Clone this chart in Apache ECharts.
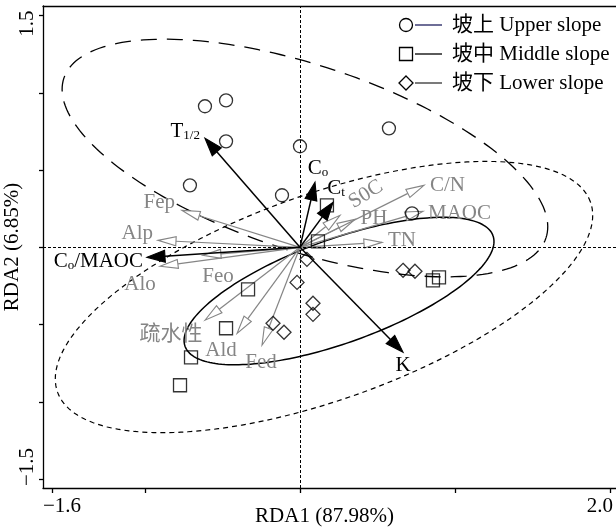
<!DOCTYPE html>
<html>
<head>
<meta charset="utf-8">
<style>
html, body { margin: 0; padding: 0; background: #fff; }
#main { width: 616px; height: 529px; }
</style>
<script src="https://cdn.jsdelivr.net/npm/echarts@6/dist/echarts.min.js"></script>
</head>
<body>
<div id="main"></div>
<script>
// 样点得分 (RDA1, RDA2)
var upperX = [-0.613, -0.477, -0.477, -0.710, -0.116, 0.000, 0.574, 0.723];
var upperY = [0.913, 0.951, 0.686, 0.401, 0.337, 0.654, 0.770, 0.220];
var middleX = [0.174, 0.116, -0.335, -0.477, -0.703, -0.774, 0.858, 0.897];
var middleY = [0.272, 0.039, -0.272, -0.524, -0.712, -0.893, -0.214, -0.194];
var lowerX = [0.045, -0.019, 0.084, 0.084, -0.174, -0.103, 0.665, 0.742];
var lowerY = [-0.078, -0.227, -0.362, -0.434, -0.492, -0.550, -0.149, -0.155];

// 响应变量箭头 (黑色)
var blackNames = ['T1/2', 'Co', 'Ct', 'Co/MAOC', 'K'];
var blackX = [-0.613, 0.097, 0.213, -0.987, 0.665];
var blackY = [0.706, 0.421, 0.291, -0.065, -0.680];

// 环境因子箭头 (灰色)
var grayNames = ['Fep', 'Alp', 'Feo', 'Alo', '疏水性', 'Ald', 'Fed', 'S0C', 'PH', 'C/N', 'MAOC', 'TN'];
var grayX = [-0.761, -0.916, -0.626, -0.903, -0.613, -0.406, -0.245, 0.258, 0.355, 0.800, 0.794, 0.529];
var grayY = [0.239, 0.045, -0.052, -0.123, -0.472, -0.557, -0.634, 0.207, 0.181, 0.401, 0.233, 0.032];

// 置信椭圆: 中心, 半长轴, 半短轴, 角度
var ellipseCX = [0.032, 0.155, 0.252];
var ellipseCY = [0.578, -0.322, -0.283];
var ellipseA = [1.639, 1.826, 1.056];
var ellipseB = [0.600, 0.665, 0.335];
var ellipseAngle = [-18.4, 19.7, 19.85];

// 坐标轴
var xTicks = [-1.6, -1, 0, 1, 2];
var yTicks = [-1.5, -1, -0.5, 0, 0.5, 1, 1.5];
var xTickLabels = ['−1.6', '2.0'];
var yTickLabels = ['−1.5', '1.5'];
var legendNames = ['坡上 Upper slope', '坡中 Middle slope', '坡下 Lower slope'];

var FONT = "'Liberation Serif', 'Noto Sans CJK SC', serif";
var GRAY = '#858585';

// 标签相对箭头尖端的位置 [dx, dy, align]
var blackLabelPos = [[-5, -7, 'right'], [3, -14, 'center'], [3, -14, 'center'], [-4, 4, 'right'], [0, 13, 'center']];
var blackLabelRich = ['{m|T}{s|1/2}', '{m|C}{s|o}', '{m|C}{s|t}', '{m|C}{s|o}{m|/MAOC}', '{m|K}'];
var grayLabelPos = [[-7, -8, 'right'], [-5, -7, 'right'], [15, 21, 'center'], [-20, 18, 'center'],
    [-34, 14, 'center'], [-16, 17, 'center'], [-1, 17, 'center'], [26, -21, 'center'],
    [19, -1, 'center'], [6, 0, 'left'], [5, 2, 'left'], [6, -2, 'left']];

function zip(a, b) {
    return a.map(function (v, i) { return [v, b[i]]; });
}

function arrowRender(opt) {
    return function (params, api) {
        var i = params.dataIndex;
        var p0 = api.coord([0, 0]);
        var p1 = api.coord([api.value(0), api.value(1)]);
        var dx = p1[0] - p0[0], dy = p1[1] - p0[1];
        var len = Math.sqrt(dx * dx + dy * dy);
        var ux = dx / len, uy = dy / len;
        var bx = p1[0] - ux * opt.headLen, by = p1[1] - uy * opt.headLen;
        var w = opt.headW;
        var head = [[p1[0], p1[1]], [bx - uy * w, by + ux * w], [bx + uy * w, by - ux * w]];
        var pos = opt.labelPos[i];
        var textStyle = {
            fill: opt.color,
            align: pos[2],
            verticalAlign: 'middle',
            font: '21px ' + FONT
        };
        if (opt.rich) {
            textStyle.text = opt.rich[i];
            textStyle.rich = {
                m: { fontSize: 21, fontFamily: FONT, fill: opt.color, lineHeight: 22, verticalAlign: 'bottom' },
                s: { fontSize: 13, fontFamily: FONT, fill: opt.color, lineHeight: 9, verticalAlign: 'bottom' }
            };
        } else {
            textStyle.text = opt.names[i];
        }
        return {
            type: 'group',
            children: [
                { type: 'line', shape: { x1: p0[0], y1: p0[1], x2: bx, y2: by },
                  style: { stroke: opt.color, lineWidth: opt.lineWidth } },
                { type: 'polygon', shape: { points: head },
                  style: { fill: opt.hollow ? '#fff' : opt.color, stroke: opt.color, lineWidth: 1.1 } },
                { type: 'text', x: p1[0] + pos[0], y: p1[1] + pos[1],
                  rotation: opt.names[i] === 'S0C' ? 32 * Math.PI / 180 : 0,
                  style: textStyle }
            ]
        };
    };
}

var ellipseStyles = [
    { lineDash: [16, 10], lineWidth: 1.3 },
    { lineDash: [5, 4], lineWidth: 1.2 },
    { lineDash: null, lineWidth: 1.5 }
];

function ellipseRender(params, api) {
    var i = params.dataIndex;
    var rot = ellipseAngle[i] * Math.PI / 180;
    var pts = [];
    for (var k = 0; k <= 200; k++) {
        var t = k / 200 * 2 * Math.PI;
        var ex = ellipseA[i] * Math.cos(t), ey = ellipseB[i] * Math.sin(t);
        pts.push(api.coord([
            ellipseCX[i] + ex * Math.cos(rot) - ey * Math.sin(rot),
            ellipseCY[i] + ex * Math.sin(rot) + ey * Math.cos(rot)
        ]));
    }
    return {
        type: 'polyline',
        shape: { points: pts },
        style: { stroke: '#000', fill: null, lineWidth: ellipseStyles[i].lineWidth, lineDash: ellipseStyles[i].lineDash }
    };
}

var markerStyle = { color: 'rgba(0,0,0,0)', borderColor: '#000', borderWidth: 1.3 };

// 图例
var legendSymbols = [
    { type: 'circle', shape: { cx: 406, cy: 25, r: 6.5 } },
    { type: 'rect', shape: { x: 399.5, y: 47.5, width: 13, height: 13 } },
    { type: 'polygon', shape: { points: [[406, 76], [413, 83], [406, 90], [399, 83]] } }
];
var legendLineColors = ['#1f1f5f', '#000', '#333'];
var legendGraphics = [];
legendNames.forEach(function (name, i) {
    var y = 25 + i * 29;
    var s = legendSymbols[i];
    s.style = { fill: 'none', stroke: '#000', lineWidth: 1.3 };
    legendGraphics.push(s);
    legendGraphics.push({ type: 'line', shape: { x1: 415, y1: y, x2: 442, y2: y }, style: { stroke: legendLineColors[i], lineWidth: 1.3 } });
    legendGraphics.push({ type: 'text', x: 452, y: y, style: { text: name, font: '21px ' + FONT, fill: '#000', verticalAlign: 'middle' } });
});

var myChart = echarts.init(document.getElementById('main'));

option = {
    animation: false,
    backgroundColor: '#fff',
    grid: { left: 43, top: 6, right: 0, bottom: 41, outerBoundsMode: 'none', containLabel: false },
    xAxis: [{
        type: 'value', min: -1.658, max: 2.039, position: 'bottom',
        name: 'RDA1 (87.98%)', nameLocation: 'middle', nameGap: 18, nameMoveOverlap: false,
        nameTextStyle: { fontSize: 21, fontFamily: FONT, color: '#000', padding: [0, 10, 0, 0] },
        axisLine: { onZero: false, lineStyle: { color: '#000', width: 1.3 } },
        axisTick: { show: true, customValues: xTicks, length: 5, lineStyle: { color: '#000', width: 1.3 } },
        axisLabel: {
            customValues: [xTicks[0], xTicks[xTicks.length - 1]],
            margin: 8, color: '#000', fontSize: 21, fontFamily: FONT,
            formatter: function (v) {
                return v < 0 ? '{l|' + xTickLabels[0] + '}' : '{r|' + xTickLabels[1] + '}';
            },
            rich: {
                l: { fontSize: 21, fontFamily: FONT, padding: [0, 0, 0, 20] },
                r: { fontSize: 21, fontFamily: FONT, padding: [0, 20, 0, 0] }
            }
        },
        splitLine: { show: false }
    }, {
        type: 'value', min: -1.658, max: 2.039, position: 'top',
        axisLine: { onZero: false, lineStyle: { color: '#000', width: 1.3 } },
        axisTick: { show: false }, axisLabel: { show: false }, splitLine: { show: false }
    }],
    yAxis: [{
        type: 'value', min: -1.558, max: 1.562, position: 'left',
        name: 'RDA2 (6.85%)', nameLocation: 'middle', nameGap: 20, nameRotate: 90, nameMoveOverlap: false,
        nameTextStyle: { fontSize: 21, fontFamily: FONT, color: '#000' },
        axisLine: { onZero: false, lineStyle: { color: '#000', width: 1.3 } },
        axisTick: { show: true, customValues: yTicks, length: 4, lineStyle: { color: '#000', width: 1.3 } },
        axisLabel: {
            customValues: [yTicks[0], yTicks[yTicks.length - 1]],
            rotate: 90, margin: 5, color: '#000', fontSize: 21, fontFamily: FONT,
            formatter: function (v) {
                return v < 0 ? '{l|' + yTickLabels[0] + '}' : '{r|' + yTickLabels[1] + '}';
            },
            rich: {
                l: { fontSize: 21, fontFamily: FONT, padding: [0, 0, 0, 24] },
                r: { fontSize: 21, fontFamily: FONT, padding: [0, 16, 0, 0] }
            }
        },
        splitLine: { show: false }
    }],
    graphic: legendGraphics,
    series: [{
        name: 'ellipses',
        type: 'custom',
        renderItem: ellipseRender,
        data: zip(ellipseCX, ellipseCY),
        silent: true,
        z: 1,
        markLine: {
            silent: true,
            symbol: ['none', 'none'],
            label: { show: false },
            lineStyle: { color: '#000', width: 1, type: [3, 2] },
            data: [{ xAxis: 0 }, { yAxis: 0 }]
        }
    }, {
        name: 'gray arrows',
        type: 'custom',
        renderItem: arrowRender({ color: GRAY, hollow: true, headLen: 18, headW: 4.5, lineWidth: 1.2, labelPos: grayLabelPos, names: grayNames }),
        data: zip(grayX, grayY),
        silent: true,
        z: 2
    }, {
        name: 'black arrows',
        type: 'custom',
        renderItem: arrowRender({ color: '#000', hollow: false, headLen: 18, headW: 6, lineWidth: 1.5, labelPos: blackLabelPos, names: blackNames, rich: blackLabelRich }),
        data: zip(blackX, blackY),
        silent: true,
        z: 3
    }, {
        name: legendNames[0], type: 'scatter', symbol: 'circle', symbolSize: 13,
        itemStyle: markerStyle, data: zip(upperX, upperY), z: 4, silent: true
    }, {
        name: legendNames[1], type: 'scatter', symbol: 'rect', symbolSize: 13,
        itemStyle: markerStyle, data: zip(middleX, middleY), z: 4, silent: true
    }, {
        name: legendNames[2], type: 'scatter', symbol: 'diamond', symbolSize: 14,
        itemStyle: markerStyle, data: zip(lowerX, lowerY), z: 4, silent: true
    }]
};

myChart.setOption(option);
</script>
</body>
</html>
